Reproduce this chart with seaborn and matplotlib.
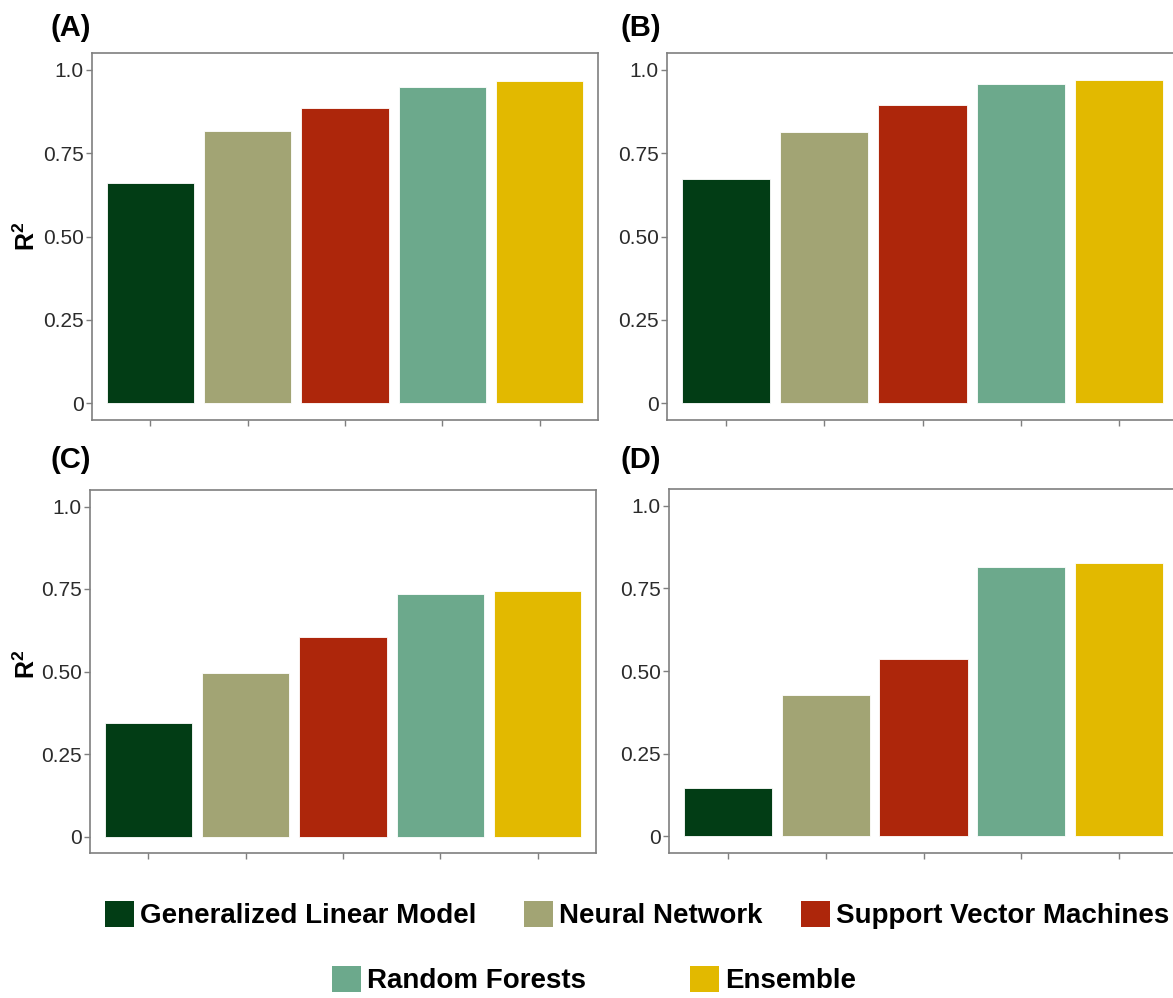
import matplotlib
matplotlib.use("Agg")
import matplotlib.pyplot as plt
import numpy as np
import pandas as pd
import seaborn as sns
from matplotlib.patches import Patch

# Models compared and their fill colours
models = ["Generalized Linear Model", "Neural Network", "Support Vector Machines",
          "Random Forests", "Ensemble"]
colors = ["#023d15", "#a2a474", "#ad260b", "#6ca98c", "#e2b900"]

# R² per model for each scenario
panels = ["(A)", "(B)", "(C)", "(D)"]
r2_a = [0.660, 0.815, 0.886, 0.948, 0.967]
r2_b = [0.672, 0.812, 0.895, 0.957, 0.969]
r2_c = [0.345, 0.496, 0.606, 0.735, 0.745]
r2_d = [0.146, 0.427, 0.535, 0.814, 0.826]

yticks = [0, 0.25, 0.5, 0.75, 1.0]
ytick_labels = ["0", "0.25", "0.50", "0.75", "1.0"]

df = pd.DataFrame({
    "panel": np.repeat(panels, len(models)),
    "model": models * len(panels),
    "r2": r2_a + r2_b + r2_c + r2_d,
})

sns.set_style("white")
plt.rcParams["font.family"] = ["Liberation Sans", "DejaVu Sans"]
plt.rcParams["text.color"] = "black"
plt.rcParams["mathtext.fontset"] = "custom"
plt.rcParams["mathtext.rm"] = "Liberation Sans"
plt.rcParams["mathtext.bf"] = "Liberation Sans:bold"

W, H = 1173, 998
fig = plt.figure(figsize=(W / 100, H / 100), dpi=100)

# panel frames in pixels: left, top, right, bottom
frames = {
    "(A)": (92, 53, 598, 420),
    "(B)": (667, 53, 1178, 420),
    "(C)": (90, 490, 596, 853),
    "(D)": (669, 489, 1178, 853),
}
label_pos = {"(A)": (50, 28), "(B)": (621, 28), "(C)": (50, 460), "(D)": (620, 460)}
frame_col = "#7f7f7f"

for p in panels:
    l, t, r, b = frames[p]
    ax = fig.add_axes([l / W, 1 - b / H, (r - l) / W, (b - t) / H])
    sub = df[df["panel"] == p]
    sns.barplot(data=sub, x="model", y="r2", hue="model", order=models,
                hue_order=models, palette=colors, width=0.9, saturation=1,
                legend=False, edgecolor="white", linewidth=0.6, ax=ax)
    ax.set_xlim(-0.6, 4.6)
    ax.set_ylim(-0.05, 1.05)
    ax.set_yticks(yticks, ytick_labels)
    ax.set_xticks(range(len(models)), [""] * len(models))
    ax.tick_params(axis="both", length=4, width=1, color=frame_col, labelsize=15,
                   labelcolor="#2b2b2b", pad=2, left=True, bottom=True)
    for s in ax.spines.values():
        s.set_visible(True)
        s.set_color(frame_col)
        s.set_linewidth(1.2)
    ax.set_xlabel("")
    ax.set_ylabel("")
    lx, ly = label_pos[p]
    fig.text(lx / W, 1 - ly / H, p, fontsize=21, fontweight="bold",
             color="black", ha="left", va="center")

# y-axis titles on the left column
for yc in (236, 664):
    fig.text(27 / W, 1 - yc / H, r"$\mathbf{R^2}$", rotation=90, fontsize=18,
             color="black", ha="center", va="center")

# legend entries placed on two rows
legend_pos = [(105, 915), (524, 915), (801, 915), (332, 980), (690, 980)]
for name, col, (x, y) in zip(models, colors, legend_pos):
    leg = fig.legend(handles=[Patch(facecolor=col, edgecolor="none", label=name)],
                     loc="center left", bbox_to_anchor=(x / W, 1 - y / H),
                     frameon=False, borderpad=0, borderaxespad=0,
                     handlelength=1.05, handleheight=1.05, handletextpad=0.22,
                     prop={"size": 20, "weight": "bold"})
    for txt in leg.get_texts():
        txt.set_color("black")

fig.savefig("out.png", dpi=100)
